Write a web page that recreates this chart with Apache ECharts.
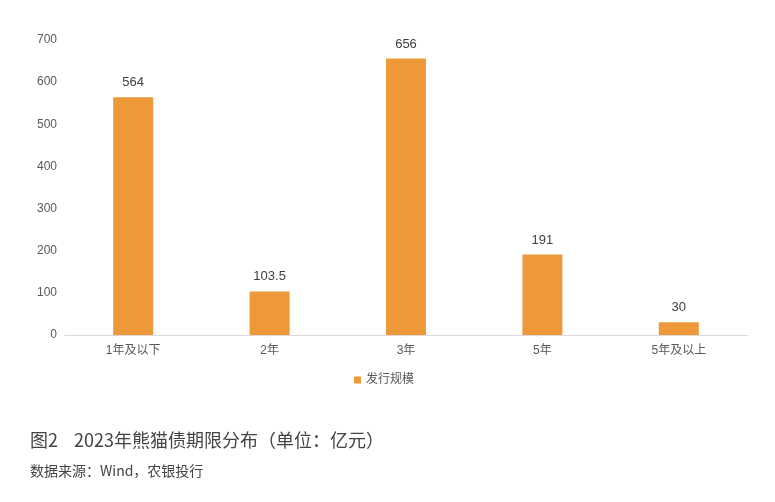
<!DOCTYPE html>
<html><head><meta charset="utf-8">
<script src="https://cdn.jsdelivr.net/npm/echarts@6/dist/echarts.min.js"></script>
<style>html,body{margin:0;padding:0;background:#fff}#c{width:775px;height:502px}</style>
</head><body><div id="c"></div>
<script>
const categories = ['1年及以下','2年','3年','5年','5年及以上'];
const values = [564, 103.5, 656, 191, 30];
const seriesName = '发行规模';
const titleText = '图2\u00a0\u00a0\u00a0\u00a02023年熊猫债期限分布（单位：亿元）';
const sourceText = '数据来源：Wind，农银投行';

const chart = echarts.init(document.getElementById('c'));
chart.setOption({
  backgroundColor: '#fff',
  animation: false,
  textStyle: {fontFamily: 'Liberation Sans, Noto Sans CJK SC, sans-serif'},
  title: [
    {text: titleText, left: 30, top: 431, padding: 0, textStyle: {fontSize: 18, fontWeight: 'normal', color: '#444', fontFamily: 'Noto Sans CJK SC'}},
    {text: sourceText, left: 30, top: 464, padding: 0, textStyle: {fontSize: 14, fontWeight: 'normal', color: '#444', fontFamily: 'Noto Sans CJK SC'}}
  ],
  legend: {
    data: [seriesName], left: 349, top: 369, itemWidth: 7, itemHeight: 7, itemGap: 5,
    icon: 'rect', textStyle: {fontSize: 12, color: '#595959'}
  },
  grid: {left: 65, right: 28, top: 40, bottom: 167},
  xAxis: {
    type: 'category', data: categories,
    axisLine: {lineStyle: {color: '#d9d9d9'}}, axisTick: {show: false},
    axisLabel: {color: '#595959', fontSize: 12, margin: 10}
  },
  yAxis: {
    type: 'value', min: 0, max: 700, interval: 100,
    axisLine: {show: false}, axisTick: {show: false}, splitLine: {show: false},
    axisLabel: {color: '#595959', fontSize: 12, margin: 8}
  },
  series: [{
    name: seriesName, type: 'bar', data: values, barWidth: 40,
    itemStyle: {color: '#ED9839'},
    label: {show: true, position: 'top', distance: 8, color: '#404040', fontSize: 13}
  }]
});
</script></body></html>
